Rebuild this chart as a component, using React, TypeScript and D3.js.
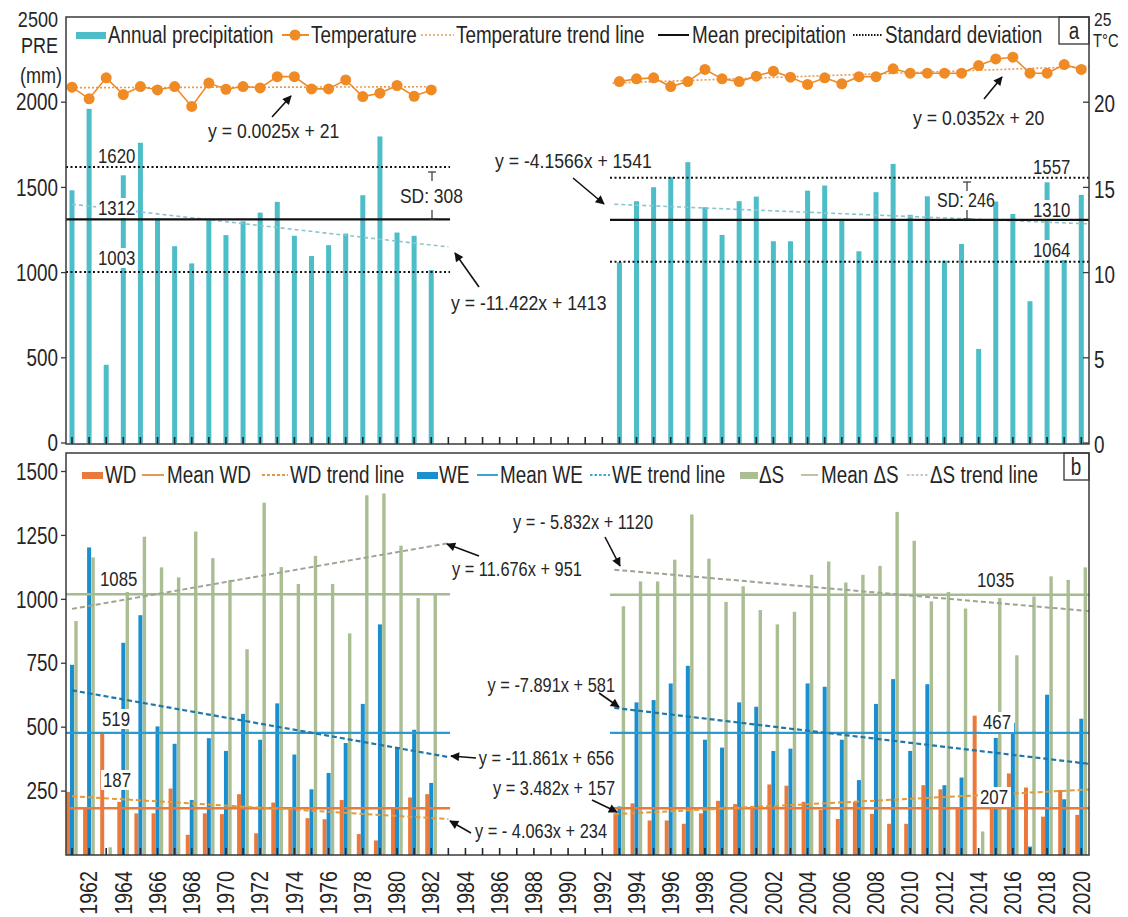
import React from "react";
import * as d3 from "d3";

// --- data ---
const years1 = [1961, 1962, 1963, 1964, 1965, 1966, 1967, 1968, 1969, 1970, 1971, 1972, 1973, 1974, 1975, 1976, 1977, 1978, 1979, 1980, 1981, 1982];
const years2 = [1993, 1994, 1995, 1996, 1997, 1998, 1999, 2000, 2001, 2002, 2003, 2004, 2005, 2006, 2007, 2008, 2009, 2010, 2011, 2012, 2013, 2014, 2015, 2016, 2017, 2018, 2019, 2020];
const tickYears = [1961, 1962, 1963, 1964, 1965, 1966, 1967, 1968, 1969, 1970, 1971, 1972, 1973, 1974, 1975, 1976, 1977, 1978, 1979, 1980, 1981, 1982, 1983, 1984, 1985, 1986, 1987, 1988, 1989, 1990, 1991, 1992, 1993, 1994, 1995, 1996, 1997, 1998, 1999, 2000, 2001, 2002, 2003, 2004, 2005, 2006, 2007, 2008, 2009, 2010, 2011, 2012, 2013, 2014, 2015, 2016, 2017, 2018, 2019, 2020];
const labelYears = [1962, 1964, 1966, 1968, 1970, 1972, 1974, 1976, 1978, 1980, 1982, 1984, 1986, 1988, 1990, 1992, 1994, 1996, 1998, 2000, 2002, 2004, 2006, 2008, 2010, 2012, 2014, 2016, 2018, 2020];

const pre1 = [1483, 1961, 459, 1571, 1762, 1317, 1155, 1054, 1307, 1220, 1301, 1352, 1415, 1216, 1097, 1161, 1229, 1454, 1799, 1235, 1216, 1015];
const pre2 = [1061, 1419, 1501, 1560, 1648, 1384, 1221, 1419, 1446, 1184, 1184, 1481, 1511, 1315, 1125, 1472, 1638, 1339, 1448, 1070, 1168, 552, 1417, 1344, 832, 1530, 1080, 1456];
const tmp1 = [20.88, 20.2, 21.43, 20.45, 20.92, 20.72, 20.92, 19.75, 21.12, 20.76, 20.92, 20.84, 21.5, 21.5, 20.78, 20.78, 21.31, 20.33, 20.53, 20.98, 20.35, 20.72];
const tmp2 = [21.21, 21.37, 21.43, 20.92, 21.21, 21.92, 21.37, 21.21, 21.53, 21.82, 21.47, 21.04, 21.43, 21.08, 21.5, 21.5, 21.96, 21.7, 21.7, 21.7, 21.7, 22.15, 22.54, 22.64, 21.7, 21.7, 22.21, 21.92];

const wd1 = [247, 183, 475, 208, 163, 163, 260, 79, 163, 160, 238, 85, 205, 180, 144, 140, 215, 82, 57, 187, 225, 238];
const we1 = [744, 1203, 0, 830, 938, 503, 435, 215, 457, 407, 552, 451, 593, 393, 257, 321, 438, 591, 902, 422, 490, 282];
const ds1 = [915, 1164, 30, 1029, 1245, 1125, 1086, 1265, 1161, 1076, 805, 1378, 1126, 1060, 1170, 1060, 867, 1407, 1414, 1210, 1005, 1022];
const wd2 = [163, 202, 135, 135, 122, 163, 212, 199, 192, 276, 271, 208, 176, 141, 208, 161, 122, 122, 273, 257, 187, 545, 187, 319, 264, 150, 254, 157];
const we2 = [190, 597, 606, 671, 740, 451, 420, 597, 580, 407, 416, 671, 658, 451, 293, 591, 688, 407, 668, 273, 303, 5, 458, 517, 33, 627, 218, 533];
const ds2 = [973, 1070, 1070, 1155, 1332, 1159, 990, 1051, 958, 902, 951, 1096, 1148, 1066, 1096, 1131, 1342, 1229, 992, 1029, 964, 92, 1005, 781, 1011, 1090, 1076, 1125];

// mean / sd lines (level as drawn), per period
const preMean = [1312, 1310];
const preSdLow = [1003, 1064];
const preSdHigh = [1620, 1557];
const wdMean = [183, 183];
const weMean = [478, 478];
const dsMean = [1020, 1018];

// trend lines: slope per year index, intercept (as drawn)
const preTrend = [[-11.422, 1413], [-4.1566, 1404]];
const tmpTrend = [[0.0025, 20.85], [0.0352, 21.1]];
const wdTrend = [[-4.063, 234], [3.482, 157]];
const weTrend = [[-11.861, 656], [-7.891, 581]];
const dsTrend = [[11.676, 951], [-5.832, 1120]];

const aTicks = [0, 500, 1000, 1500, 2000];
const tTicks = [0, 5, 10, 15, 20];
const bTicks = [250, 500, 750, 1000, 1250, 1500];

// --- layout ---
const W = 1128, H = 917;
const L = 66, R = 1089;
const aTop = 17, aBot = 444, bTop = 453, bBot = 855;
const FONT = '"Liberation Sans", Arial, Helvetica, sans-serif';
const INK = "#262626";

const C = {
  pre: "#4dbdc8",
  tmp: "#f08a24",
  wd: "#ea7a3b",
  we: "#1a8fd0",
  ds: "#aabd93",
};

const x = d3.scaleLinear().domain([1960.65, 2020.45]).range([L, R]);
const yA = d3.scaleLinear().domain([0, 2500]).range([443, 17]);
const yT = d3.scaleLinear().domain([0, 25]).range([443, 17]);
const yB = d3.scaleLinear().domain([0, 1500]).range([855, 471.5]);
const sub = d3.scaleBand().domain(["wd", "we", "ds"]).range([-6, 6]);

const periods = [
  { years: years1, pre: pre1, tmp: tmp1, wd: wd1, we: we1, ds: ds1, span: [1960.65, 1983.1], tspan: [1961, 1983.0], tmpSpan: [1961, 1982.3] },
  { years: years2, pre: pre2, tmp: tmp2, wd: wd2, we: we2, ds: ds2, span: [1992.45, 2020.45], tspan: [1992.7, 2020.45], tmpSpan: [1992.6, 2020.45] },
];

const line = d3.line<[number, number]>();

type TP = { x: number; y: number; s?: number; k?: number; a?: "start" | "middle" | "end"; r?: number; c?: string; children: React.ReactNode };
const Txt = ({ x, y, s = 23, k = 0.82, a = "start", r = 0, c = INK, children }: TP) => (
  <text
    transform={`translate(${x},${y})${r ? ` rotate(${r})` : ""} scale(${k},1)`}
    textAnchor={a}
    dominantBaseline="central"
    fontSize={s}
    fontFamily={FONT}
    fill={c}
  >
    {children}
  </text>
);

const Tag = ({ x, y, w, t }: { x: number; y: number; w: number; t: string }) => (
  <g>
    <rect x={x - 2} y={y - 10} width={w + 4} height={20} fill="#fff" />
    <Txt x={x} y={y} s={21} k={0.8}>{t}</Txt>
  </g>
);

const Arrow = ({ p }: { p: number[] }) => (
  <line x1={p[0]} y1={p[1]} x2={p[2]} y2={p[3]} stroke="#111" strokeWidth={1.6} markerEnd="url(#ah)" />
);

const trendPath = (t: number[], y0: number, span: number[], ys: d3.ScaleLinear<number, number>) =>
  line(span.map((yr) => [x(yr), ys(t[0] * (yr - y0 + 1) + t[1])] as [number, number]));

const hLine = (v: number, span: number[], ys: d3.ScaleLinear<number, number>) =>
  line(span.map((yr) => [x(yr), ys(v)] as [number, number]));

const SdBracket = ({ bx, top, bot }: { bx: number; top: number; bot: number }) => (
  <g stroke="#333" strokeWidth={1.2}>
    <line x1={bx - 4} x2={bx + 4} y1={top} y2={top} />
    <line x1={bx} x2={bx} y1={top} y2={top + 9} />
    <line x1={bx - 4} x2={bx + 4} y1={bot} y2={bot} />
    <line x1={bx} x2={bx} y1={bot - 9} y2={bot} />
  </g>
);

export default function App() {
  return (
    <svg width={W} height={H} style={{ position: "absolute", left: 0, top: 0, background: "#fff" }}>
      <defs>
        <marker id="ah" viewBox="0 0 10 10" refX="9" refY="5" markerWidth="11" markerHeight="9" markerUnits="userSpaceOnUse" orient="auto">
          <path d="M0,0L10,5L0,10z" fill="#111" />
        </marker>
      </defs>

      {/* ===== panel a ===== */}
      {periods.map((p, pi) => (
        <g key={"abars" + pi}>
          {p.years.map((yr, i) => (
            <rect key={yr} x={x(yr) - 2.5} width={5} y={yA(p.pre[i])} height={yA(0) - yA(p.pre[i])} fill={C.pre} />
          ))}
        </g>
      ))}
      {periods.map((p, pi) => (
        <path key={"ptr" + pi} d={trendPath(preTrend[pi], p.years[0], p.tspan, yA) || ""} fill="none" stroke="#8cc6cc" strokeWidth={1.6} strokeDasharray="4 3" />
      ))}

      <Tag x={98} y={208} w={36} t="1312" />
      <Tag x={98} y={258} w={36} t="1003" />
      <Txt x={98} y={156} s={21} k={0.8}>1620</Txt>
      <Tag x={1033} y={210} w={36} t="1310" />
      <Tag x={1033} y={250} w={36} t="1064" />
      <Txt x={1033} y={167} s={21} k={0.8}>1557</Txt>

      {periods.map((p, pi) => (
        <g key={"amean" + pi} fill="none">
          <path d={hLine(preMean[pi], p.span, yA) || ""} stroke="#111" strokeWidth={2.2} />
          <path d={hLine(preSdHigh[pi], p.span, yA) || ""} stroke="#111" strokeWidth={2} strokeDasharray="2 2.5" />
          <path d={hLine(preSdLow[pi], p.span, yA) || ""} stroke="#111" strokeWidth={2} strokeDasharray="2 2.5" />
        </g>
      ))}

      {periods.map((p, pi) => (
        <g key={"tmp" + pi}>
          <path d={trendPath(tmpTrend[pi], p.years[0], p.tmpSpan, yT) || ""} fill="none" stroke="#e89a52" strokeWidth={1.6} strokeDasharray="2 2" />
          <path d={line(p.years.map((yr, i) => [x(yr), yT(p.tmp[i])] as [number, number])) || ""} fill="none" stroke={C.tmp} strokeWidth={1.6} />
          {p.years.map((yr, i) => (
            <circle key={yr} cx={x(yr)} cy={yT(p.tmp[i])} r={5.5} fill={C.tmp} />
          ))}
        </g>
      ))}

      {/* SD annotations */}
      <SdBracket bx={432} top={172} bot={219} />
      <rect x={398} y={186} width={66} height={20} fill="#fff" />
      <Txt x={400} y={196} s={21} k={0.83}>SD: 308</Txt>
      <SdBracket bx={967} top={182} bot={219} />
      <Txt x={937} y={200} s={20} k={0.8}>SD: 246</Txt>

      {/* equations a */}
      <Txt x={208} y={130} s={21} k={0.84}>y = 0.0025x + 21</Txt>
      <Arrow p={[272, 117, 291, 96]} />
      <Txt x={451} y={302} s={21} k={0.84}>y = -11.422x + 1413</Txt>
      <Arrow p={[479, 287, 455, 253]} />
      <Txt x={495} y={160} s={21} k={0.84}>y = -4.1566x + 1541</Txt>
      <Arrow p={[573, 178, 604, 204]} />
      <Txt x={913} y={117} s={21} k={0.84}>y = 0.0352x + 20</Txt>
      <Arrow p={[984, 99, 1002, 77]} />

      {/* legend a */}
      <g>
        <rect x={76} y={32} width={30} height={7} fill={C.pre} />
        <Txt x={108} y={35}>Annual precipitation</Txt>
        <line x1={282} x2={309} y1={35} y2={35} stroke={C.tmp} strokeWidth={2} />
        <circle cx={295} cy={35} r={5.5} fill={C.tmp} />
        <Txt x={311} y={35}>Temperature</Txt>
        <line x1={421} x2={454} y1={35} y2={35} stroke="#e89a52" strokeWidth={1.6} strokeDasharray="2 2" />
        <Txt x={456} y={35}>Temperature trend line</Txt>
        <line x1={658} x2={689} y1={35} y2={35} stroke="#111" strokeWidth={2} />
        <Txt x={692} y={35}>Mean precipitation</Txt>
        <line x1={853} x2={883} y1={35} y2={35} stroke="#111" strokeWidth={1.8} strokeDasharray="1.5 1.5" />
        <Txt x={885} y={35}>Standard deviation</Txt>
        <rect x={1059} y={aTop} width={R - 1059} height={27} fill="#fff" stroke="#333" strokeWidth={1.3} />
        <Txt x={1074} y={31} a="middle">a</Txt>
      </g>

      {/* frame + axes a */}
      <rect x={L} y={aTop} width={R - L} height={aBot - aTop} fill="none" stroke="#3a3a3a" strokeWidth={1.5} />
      {tickYears.map((yr) => (
        <line key={"ta" + yr} x1={x(yr)} x2={x(yr)} y1={aBot} y2={aBot - 7} stroke="#1c2a38" strokeWidth={1.6} />
      ))}
      {aTicks.map((v) => (
        <g key={"la" + v}>
          <line x1={L - 5} x2={L} y1={yA(v)} y2={yA(v)} stroke="#3a3a3a" strokeWidth={1.3} />
          <Txt x={58} y={yA(v)} a="end">{v}</Txt>
        </g>
      ))}
      <Txt x={58} y={19} a="end" s={22}>2500</Txt>
      <Txt x={58} y={45} a="end" s={22}>PRE</Txt>
      <Txt x={62} y={75} a="end" s={22}>(mm)</Txt>
      {tTicks.map((v) => (
        <g key={"lt" + v}>
          <line x1={R - 6} x2={R} y1={yT(v)} y2={yT(v)} stroke="#3a3a3a" strokeWidth={1.3} />
          <Txt x={1094} y={yT(v) + 2}>{v}</Txt>
        </g>
      ))}
      <Txt x={1094} y={19} s={19}>25</Txt>
      <Txt x={1093} y={40} s={18}>T°C</Txt>

      {/* ===== panel b ===== */}
      {periods.map((p, pi) => (
        <g key={"bbars" + pi}>
          {p.years.map((yr, i) => (
            <g key={yr}>
              <rect x={x(yr) + (sub("wd") as number)} width={sub.bandwidth()} y={yB(p.wd[i])} height={yB(0) - yB(p.wd[i])} fill={C.wd} />
              <rect x={x(yr) + (sub("we") as number)} width={sub.bandwidth()} y={yB(p.we[i])} height={yB(0) - yB(p.we[i])} fill={C.we} />
              <rect x={x(yr) + (sub("ds") as number) + 0.3} width={sub.bandwidth() - 0.6} y={yB(p.ds[i])} height={yB(0) - yB(p.ds[i])} fill={C.ds} />
            </g>
          ))}
        </g>
      ))}

      {periods.map((p, pi) => (
        <g key={"bmean" + pi} fill="none">
          <path d={hLine(dsMean[pi], p.span, yB) || ""} stroke="#a6bb8d" strokeWidth={2.4} />
          <path d={hLine(weMean[pi], p.span, yB) || ""} stroke="#2a9ad2" strokeWidth={2.2} />
          <path d={hLine(wdMean[pi], p.span, yB) || ""} stroke="#ea7a3b" strokeWidth={2.6} />
          <path d={trendPath(dsTrend[pi], p.years[0], p.tspan, yB) || ""} stroke="#9ea394" strokeWidth={2} strokeDasharray="5 3" />
          <path d={trendPath(weTrend[pi], p.years[0], p.tspan, yB) || ""} stroke="#1d78a8" strokeWidth={2.2} strokeDasharray="5 3" />
          <path d={trendPath(wdTrend[pi], p.years[0], p.tspan, yB) || ""} stroke="#e49a3a" strokeWidth={2} strokeDasharray="5 3" />
        </g>
      ))}

      <Tag x={100} y={579} w={37} t="1085" />
      <Tag x={102} y={719} w={29} t="519" />
      <Tag x={103} y={780} w={29} t="187" />
      <Txt x={977} y={580} s={21} k={0.8}>1035</Txt>
      <Tag x={983} y={722} w={29} t="467" />
      <Tag x={980} y={797} w={29} t="207" />

      {/* equations b */}
      <Txt x={452} y={569} s={21} k={0.78}>y = 11.676x + 951</Txt>
      <Arrow p={[479, 556, 447, 544]} />
      <Txt x={653} y={522} s={21} k={0.78} a="end">y = - 5.832x + 1120</Txt>
      <Arrow p={[605, 537, 620, 566]} />
      <Txt x={615} y={685} s={21} k={0.78} a="end">y = -7.891x + 581</Txt>
      <Arrow p={[599, 693, 619, 707]} />
      <Txt x={614} y={758} s={21} k={0.78} a="end">y = -11.861x + 656</Txt>
      <Arrow p={[476, 758, 451, 756]} />
      <Txt x={615} y={788} s={21} k={0.78} a="end">y = 3.482x + 157</Txt>
      <Arrow p={[592, 800, 617, 812]} />
      <Txt x={475} y={831} s={21} k={0.78}>y = - 4.063x + 234</Txt>
      <Arrow p={[471, 833, 450, 821]} />

      {/* legend b */}
      <g>
        <rect x={82} y={472} width={21} height={7} fill={C.wd} />
        <Txt x={105} y={475}>WD</Txt>
        <line x1={142} x2={164} y1={475} y2={475} stroke="#e39a55" strokeWidth={2} />
        <Txt x={167} y={475}>Mean WD</Txt>
        <line x1={262} x2={288} y1={475} y2={475} stroke="#e49a3a" strokeWidth={1.8} strokeDasharray="3 2" />
        <Txt x={290} y={475}>WD trend line</Txt>
        <rect x={417} y={472} width={21} height={7} fill={C.we} />
        <Txt x={439} y={475}>WE</Txt>
        <line x1={477} x2={498} y1={475} y2={475} stroke="#3aa6d6" strokeWidth={2} />
        <Txt x={500} y={475}>Mean WE</Txt>
        <line x1={590} x2={610} y1={475} y2={475} stroke="#3aa6d6" strokeWidth={1.8} strokeDasharray="2.5 2" />
        <Txt x={612} y={475}>WE trend line</Txt>
        <rect x={740} y={472} width={18} height={7} fill={C.ds} />
        <Txt x={759} y={475}>ΔS</Txt>
        <line x1={801} x2={818} y1={475} y2={475} stroke="#b7c4a6" strokeWidth={2} />
        <Txt x={821} y={475}>Mean ΔS</Txt>
        <line x1={907} x2={928} y1={475} y2={475} stroke="#b3b8aa" strokeWidth={1.6} strokeDasharray="2.5 2" />
        <Txt x={930} y={475}>ΔS trend line</Txt>
        <rect x={1064} y={bTop} width={R - 1064} height={27} fill="#fff" stroke="#333" strokeWidth={1.3} />
        <Txt x={1076} y={467} a="middle">b</Txt>
      </g>

      {/* frame + axes b */}
      <rect x={L} y={bTop} width={R - L} height={bBot - bTop} fill="none" stroke="#3a3a3a" strokeWidth={1.5} />
      {tickYears.map((yr) => (
        <line key={"tb" + yr} x1={x(yr)} x2={x(yr)} y1={bBot} y2={bBot - 7} stroke="#1c2a38" strokeWidth={1.6} />
      ))}
      {bTicks.map((v) => (
        <g key={"lb" + v}>
          <line x1={L - 5} x2={L} y1={yB(v)} y2={yB(v)} stroke="#3a3a3a" strokeWidth={1.3} />
          <Txt x={58} y={yB(v)} a="end">{v}</Txt>
        </g>
      ))}
      {labelYears.map((yr) => (
        <Txt key={"xl" + yr} x={x(yr)} y={871} r={-90} a="end" s={24} k={0.82}>
          {yr}
        </Txt>
      ))}
    </svg>
  );
}
